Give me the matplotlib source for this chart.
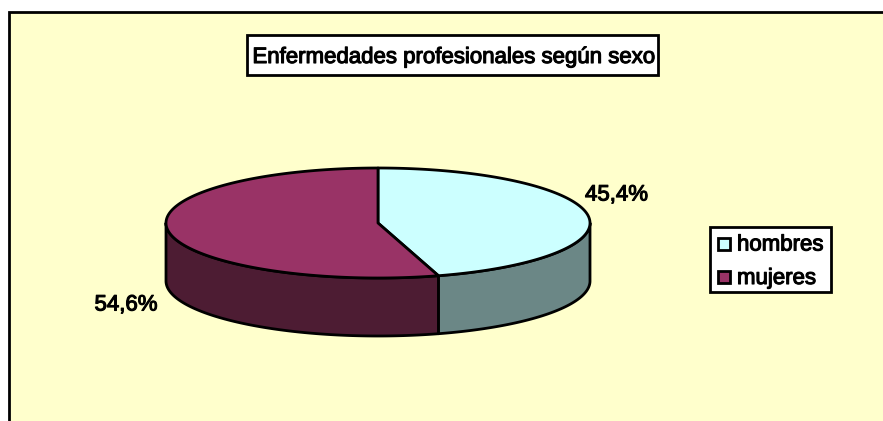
import numpy as np
import matplotlib
matplotlib.use("Agg")
import matplotlib.pyplot as plt
import matplotlib.patheffects as pe
from matplotlib.patches import Polygon, Rectangle

title = "Enfermedades profesionales según sexo"
categories = ["hombres", "mujeres"]
values = [45.4, 54.6]
value_labels = ["45,4%", "54,6%"]
top_colors = ["#CCFFFF", "#993366"]
side_colors = ["#6B8786", "#4D1C33"]

W, H = 883, 421
plt.rcParams['font.family'] = ['Liberation Sans', 'DejaVu Sans']
fig = plt.figure(figsize=(W / 100, H / 100), dpi=100, facecolor="white")
ax = fig.add_axes([0, 0, 1, 1])
ax.set_xlim(0, W)
ax.set_ylim(H, 0)
ax.axis("off")

# chart area
ax.add_patch(Rectangle((9, 11.5), W + 20, H + 20, fc="#FFFFCC", ec="black", lw=2.0, zorder=1))

cx, cy, rx, ry, depth = 378, 223, 212, 55, 58
stroke = [pe.withStroke(linewidth=0.8, foreground="black")]
LW = 2.0

def pt(th, dy=0):
    th = np.asarray(th)
    return np.column_stack([cx + rx * np.sin(th), cy - ry * np.cos(th) + dy])

fracs = np.array(values) / sum(values) * 2 * np.pi
edges = np.concatenate([[0], np.cumsum(fracs)])

# side walls (only the front half, pi/2 .. 3pi/2, is visible)
for i in range(len(values)):
    a = max(edges[i], np.pi / 2)
    b = min(edges[i + 1], 3 * np.pi / 2)
    if b > a:
        th = np.linspace(a, b, 200)
        wall = np.vstack([pt(th), pt(th[::-1], depth)])
        ax.add_patch(Polygon(wall, closed=True, fc=side_colors[i], ec="black", lw=LW,
                             joinstyle="round", zorder=2))
# top wedges
for i in range(len(values)):
    th = np.linspace(edges[i], edges[i + 1], 300)
    wedge = np.vstack([[cx, cy], pt(th)])
    ax.add_patch(Polygon(wedge, closed=True, fc=top_colors[i], ec="black", lw=LW,
                         joinstyle="round", zorder=3))

# data labels
FS = 16.0
ax.text(616.5, 195, value_labels[0], fontsize=FS, ha="center", va="center", color="black",
        path_effects=stroke, zorder=5)
ax.text(126, 305, value_labels[1], fontsize=FS, ha="center", va="center", color="black",
        path_effects=stroke, zorder=5)

# title
ax.add_patch(Rectangle((246.5, 35), 411, 40, fc="white", ec="black", lw=LW, zorder=4))
ax.text(454, 57.5, title, fontsize=FS, ha="center", va="center", color="black",
        path_effects=stroke, zorder=5)

# legend
ax.add_patch(Rectangle((709.5, 227), 121, 65, fc="white", ec="black", lw=LW, zorder=4))
for i, (name, y) in enumerate(zip(categories, [243.5, 277])):
    ax.add_patch(Rectangle((717.5, y - 6), 12, 12, fc=top_colors[i], ec="black", lw=LW, zorder=5))
    ax.text(737, y + 1.5, name, fontsize=FS, ha="left", va="center", color="black",
            path_effects=stroke, zorder=5)

fig.savefig("out.png", dpi=100, facecolor="white")
